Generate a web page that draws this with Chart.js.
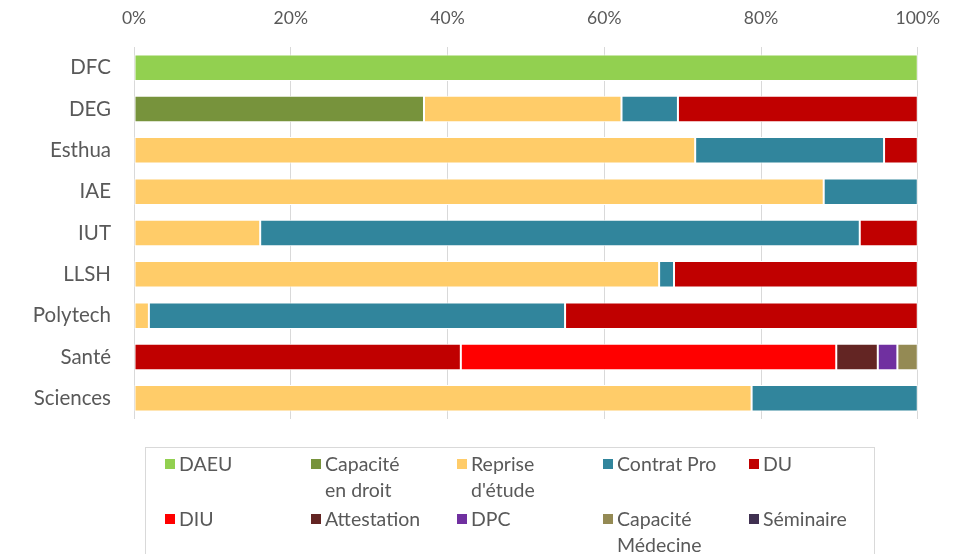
<!DOCTYPE html>
<html>
<head>
<meta charset="utf-8">
<script src="https://cdn.jsdelivr.net/npm/chart.js@4"></script>
<style>
  body { margin: 0; background: #fff; font-family: Lato, "Open Sans", sans-serif; }
  #wrap { position: relative; width: 958px; height: 554px; overflow: hidden; }
  #legend {
    position: absolute; left: 145px; top: 447px; width: 730px; height: 120px;
    border: 1px solid #d9d9d9; box-sizing: border-box;
    display: grid; grid-template-columns: repeat(5, 146px); grid-auto-rows: 52px; row-gap: 3px;
    padding: 3px 0 0 19px; color: #595959; font-size: 19.5px; line-height: 26px;
  }
  .item { display: flex; align-items: flex-start; white-space: pre-line; }
  .sw { width: 10px; height: 10px; margin: 8px 4px 0 0; flex: none; }
</style>
</head>
<body>
<div id="wrap">
  <canvas id="chart" width="958" height="554"></canvas>
  <div id="legend"></div>
</div>
<script>
// categories (top to bottom)
const composantes = ["DFC", "DEG", "Esthua", "IAE", "IUT", "LLSH", "Polytech", "Santé", "Sciences"];

// share of each diploma type per composante, in %
const daeu       = [100, null, null, null, null, null, null, null, null];
const capDroit   = [null, 37.0, null, null, null, null, null, null, null];
const reprise    = [null, 25.2, 71.6, 88.0, 16.1, 67.0, 1.9, null, 78.8];
const contratPro = [null, 7.2, 24.1, 12.0, 76.5, 1.9, 53.1, null, 21.2];
const du         = [null, 30.6, 4.3, null, 7.4, 31.1, 45.0, 41.7, null];
const diu        = [null, null, null, null, null, null, null, 47.9, null];
const attestation= [null, null, null, null, null, null, null, 5.3, null];
const dpc        = [null, null, null, null, null, null, null, 2.5, null];
const capMedecine= [null, null, null, null, null, null, null, 2.6, null];
const seminaire  = [null, null, null, null, null, null, null, null, null];

const xTicks = [0, 20, 40, 60, 80, 100];

const series = [
  { label: "DAEU", data: daeu, color: "#92D050" },
  { label: "Capacité\nen droit", data: capDroit, color: "#77933C" },
  { label: "Reprise\nd'étude", data: reprise, color: "#FFCC69" },
  { label: "Contrat Pro", data: contratPro, color: "#31859C" },
  { label: "DU", data: du, color: "#C00000" },
  { label: "DIU", data: diu, color: "#FF0000" },
  { label: "Attestation", data: attestation, color: "#632523" },
  { label: "DPC", data: dpc, color: "#7030A0" },
  { label: "Capacité\nMédecine", data: capMedecine, color: "#948A54" },
  { label: "Séminaire", data: seminaire, color: "#403151" }
];

new Chart(document.getElementById("chart"), {
  type: "bar",
  data: {
    labels: composantes,
    datasets: series.map(s => ({
      label: s.label.replace("\n", " "),
      data: s.data,
      backgroundColor: s.color,
      borderColor: "#ffffff",
      borderWidth: 1,
      borderSkipped: false,
      barPercentage: 0.64,
      categoryPercentage: 1
    }))
  },
  options: {
    indexAxis: "y",
    responsive: false,
    animation: false,
    layout: { padding: { left: 0, right: 40, top: 0, bottom: 135 } },
    plugins: { legend: { display: false }, tooltip: { enabled: false } },
    scales: {
      x: {
        position: "top",
        stacked: true,
        min: 0,
        max: 100,
        afterBuildTicks: scale => { scale.ticks = xTicks.map(v => ({ value: v })); },
        afterFit: scale => { scale.height = 47; },
        border: { display: false },
        grid: { color: "#d9d9d9", drawTicks: false, lineWidth: 1 },
        ticks: {
          color: "#595959",
          font: { family: "Lato", size: 17.5 },
          padding: 18,
          callback: v => v + "%"
        }
      },
      y: {
        stacked: true,
        afterFit: scale => { scale.width = 134; },
        border: { display: false },
        grid: { display: false, drawTicks: false },
        ticks: {
          color: "#595959",
          font: { family: "Lato", size: 20.5 },
          padding: 23
        }
      }
    }
  }
});

// legend box below the plot
const legend = document.getElementById("legend");
series.forEach(s => {
  const item = document.createElement("div");
  item.className = "item";
  const sw = document.createElement("span");
  sw.className = "sw";
  sw.style.background = s.color;
  const txt = document.createElement("span");
  txt.textContent = s.label;
  item.appendChild(sw);
  item.appendChild(txt);
  legend.appendChild(item);
});
</script>
</body>
</html>
